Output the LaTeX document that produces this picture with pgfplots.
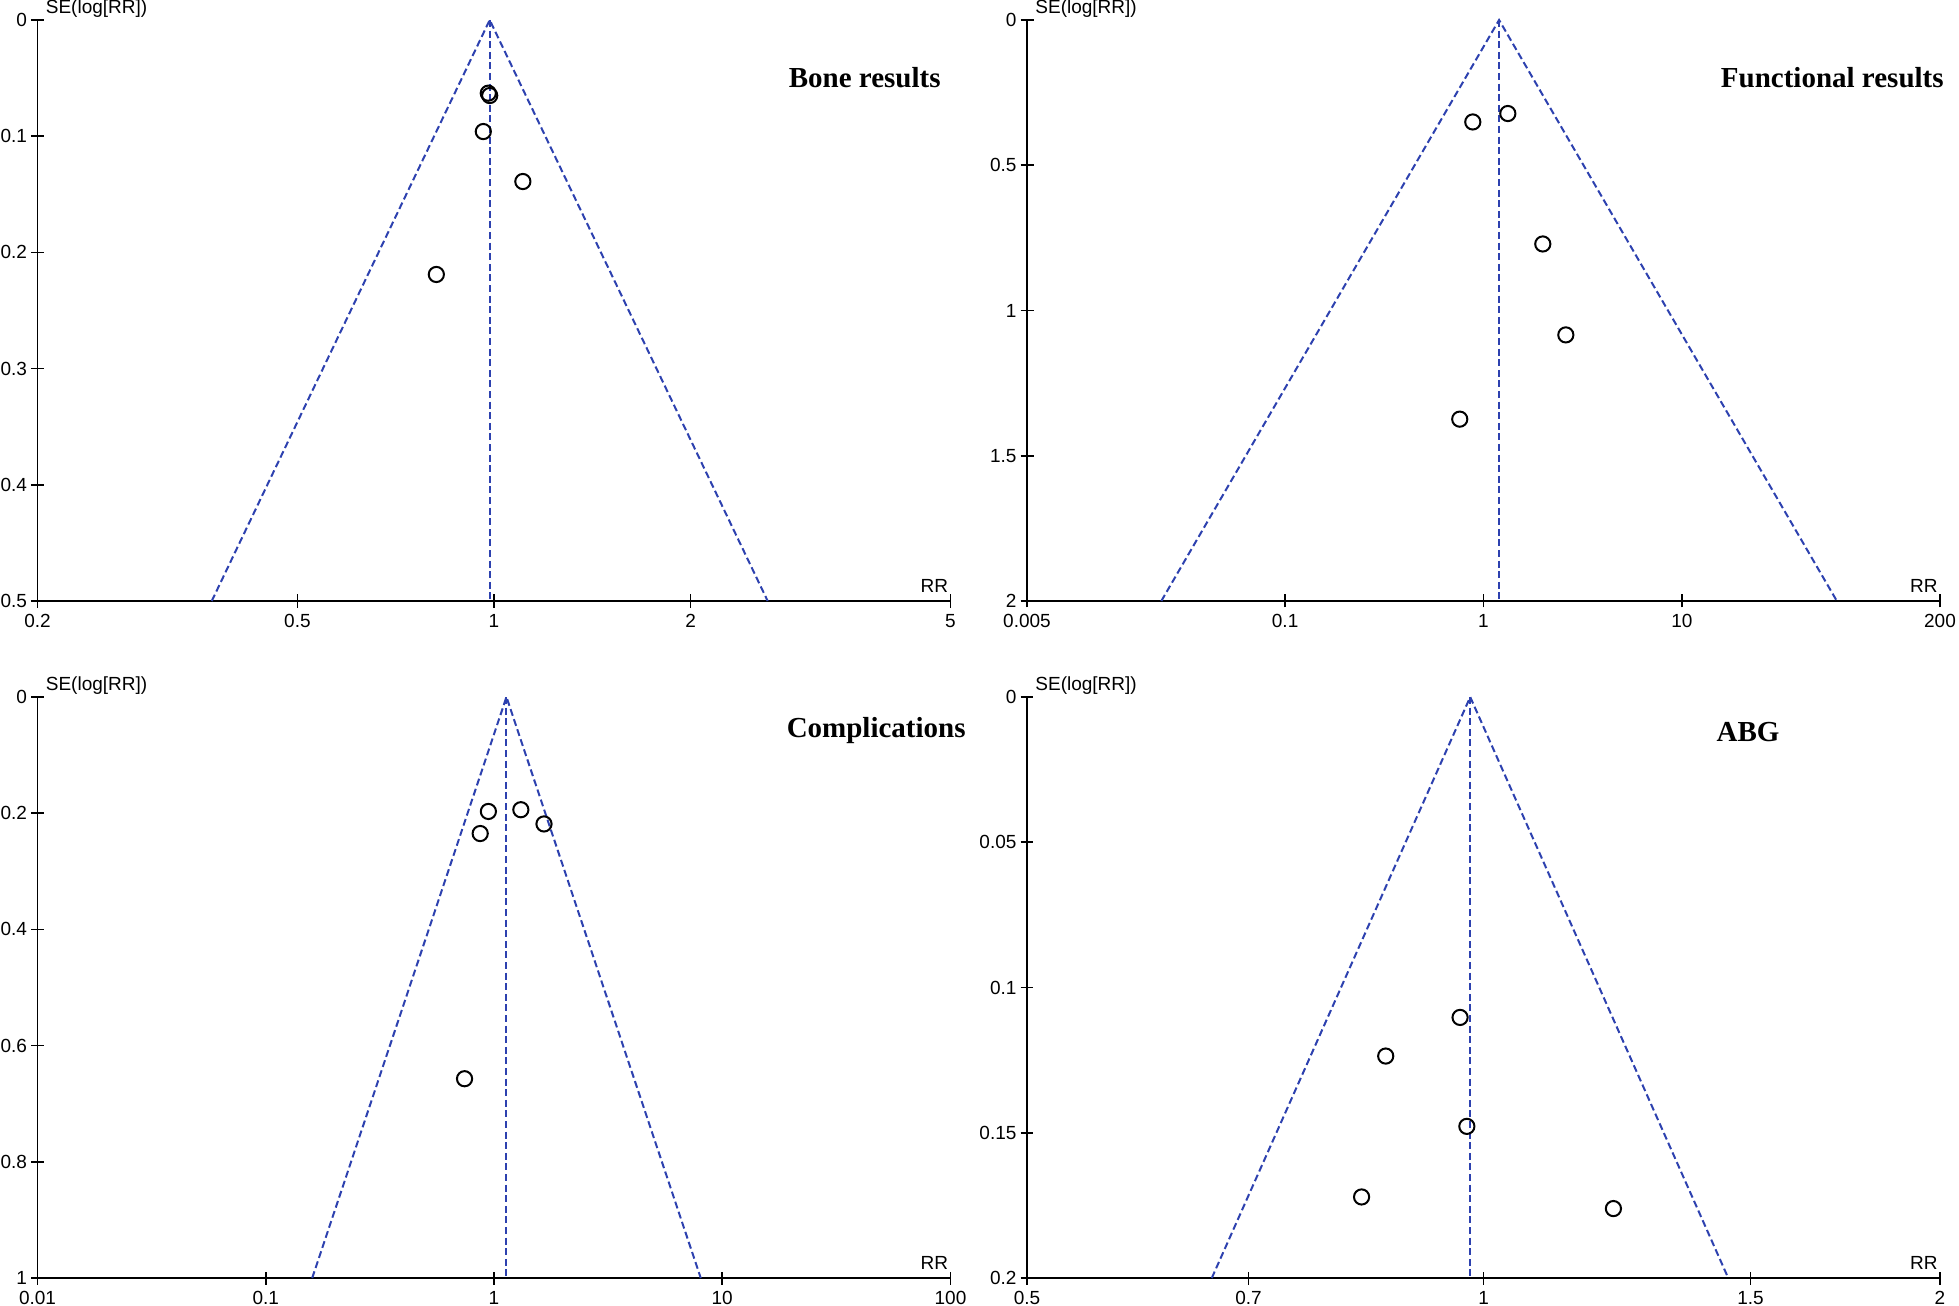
\documentclass[border=0pt]{standalone}
\usepackage{fontspec}
\setmainfont{Liberation Sans}
\newfontfamily\titlefont{Liberation Serif}
\usepackage{pgfplots}
\pgfplotsset{compat=1.18}

\definecolor{funnelblue}{RGB}{45,65,175}
\newcommand{\labfont}{\fontsize{9.5}{11}\selectfont}

\pgfplotsset{
  every axis/.append style={
    scale only axis,
    width=456.5pt, height=290.5pt,
    xmode=log,
    y dir=reverse,
    axis x line=bottom, axis y line=left,
    axis line style={-, line width=0.9pt},
    clip=false,
    x tick style={line width=0.8pt, black},
    y tick style={line width=0.8pt, black},
    major tick length=6.5pt,
    xtick align=center, ytick align=center,
    xminorticks=false, yminorticks=false,
    tick label style={font=\labfont},
    yticklabel style={xshift=1.5pt},
    /pgf/number format/assume math mode=true,
  },
  fpline/.style={funnelblue, dash pattern=on 3.5pt off 1.8pt, line width=1pt},
  fpmark/.style={only marks, mark=o, mark size=3.8pt, black, line width=1pt},
}
\tikzset{
  selab/.style={anchor=base west, font=\labfont, inner sep=0pt, xshift=4pt, yshift=3pt},
  rrlab/.style={anchor=south east, font=\labfont, inner sep=0pt, xshift=-1pt, yshift=4pt},
}

\begin{document}
\begin{tikzpicture}
\useasboundingbox (0,0) rectangle (979.5pt,653pt);

% Bone results
\begin{axis}[at={(18.75pt,352.5pt)}, anchor=south west,
  xmin=0.2, xmax=5, ymin=0, ymax=0.5,
  xtick={0.2,0.5,1,2,5}, xticklabels={0.2,0.5,1,2,5},
  ytick={0,0.1,0.2,0.3,0.4,0.5}, yticklabels={0,0.1,0.2,0.3,0.4,0.5}]
\addplot[fpline] coordinates {(0.3697,0.5) (0.985,0) (2.6245,0.5)};
\addplot[fpline] coordinates {(0.985,0) (0.985,0.5)};
\addplot[fpmark] coordinates {
  (0.980,0.063) (0.985,0.065) (0.963,0.096) (1.107,0.139) (0.816,0.219)
};
\node[selab] at (axis cs:0.2,0) {SE(log[RR])};
\node[rrlab] at (axis cs:5,0.5) {RR};
\end{axis}

% Functional results
\begin{axis}[at={(513.5pt,352.5pt)}, anchor=south west,
  xmin=0.005, xmax=200, ymin=0, ymax=2,
  xtick={0.005,0.1,1,10,200}, xticklabels={0.005,0.1,1,10,200},
  ytick={0,0.5,1,1.5,2}, yticklabels={0,0.5,1,1.5,2}]
\addplot[fpline] coordinates {(0.02377,2) (1.198,0) (60.4,2)};
\addplot[fpline] coordinates {(1.198,0) (1.198,2)};
\addplot[fpmark] coordinates {
  (0.883,0.351) (1.326,0.322) (1.99,0.771) (2.60,1.084) (0.759,1.374)
};
\node[selab] at (axis cs:0.005,0) {SE(log[RR])};
\node[rrlab] at (axis cs:200,2) {RR};
\end{axis}

% Complications
\begin{axis}[at={(18.75pt,14pt)}, anchor=south west,
  xmin=0.01, xmax=100, ymin=0, ymax=1,
  xtick={0.01,0.1,1,10,100}, xticklabels={0.01,0.1,1,10,100},
  ytick={0,0.2,0.4,0.6,0.8,1}, yticklabels={0,0.2,0.4,0.6,0.8,1}]
\addplot[fpline] coordinates {(0.1598,1) (1.134,0) (8.05,1)};
\addplot[fpline] coordinates {(1.134,0) (1.134,1)};
\addplot[fpmark] coordinates {
  (0.945,0.197) (1.311,0.194) (1.656,0.2185) (0.870,0.235) (0.743,0.657)
};
\node[selab] at (axis cs:0.01,0) {SE(log[RR])};
\node[rrlab] at (axis cs:100,1) {RR};
\end{axis}

% ABG
\begin{axis}[at={(513.5pt,14pt)}, anchor=south west,
  xmin=0.5, xmax=2, ymin=0, ymax=0.2,
  xtick={0.5,0.7,1,1.5,2}, xticklabels={0.5,0.7,1,1.5,2},
  ytick={0,0.05,0.1,0.15,0.2}, yticklabels={0,0.05,0.1,0.15,0.2}]
\addplot[fpline] coordinates {(0.662,0.2) (0.980,0) (1.450,0.2)};
\addplot[fpline] coordinates {(0.980,0) (0.980,0.2)};
\addplot[fpmark] coordinates {
  (0.965,0.1103) (0.862,0.1236) (0.975,0.1478) (0.831,0.1721) (1.218,0.1761)
};
\node[selab] at (axis cs:0.5,0) {SE(log[RR])};
\node[rrlab] at (axis cs:2,0.2) {RR};
\end{axis}

% panel titles
\begin{scope}[every node/.style={font=\titlefont\bfseries\fontsize{14.5}{16}\selectfont, inner sep=0pt}]
\node[anchor=east] at (470.5pt,614.25pt) {Bone results};
\node[anchor=east] at (972pt,614.25pt) {Functional results};
\node[anchor=east] at (483pt,287.5pt) {Complications};
\node[anchor=center] at (874pt,287pt) {ABG};
\end{scope}
\end{tikzpicture}
\end{document}
